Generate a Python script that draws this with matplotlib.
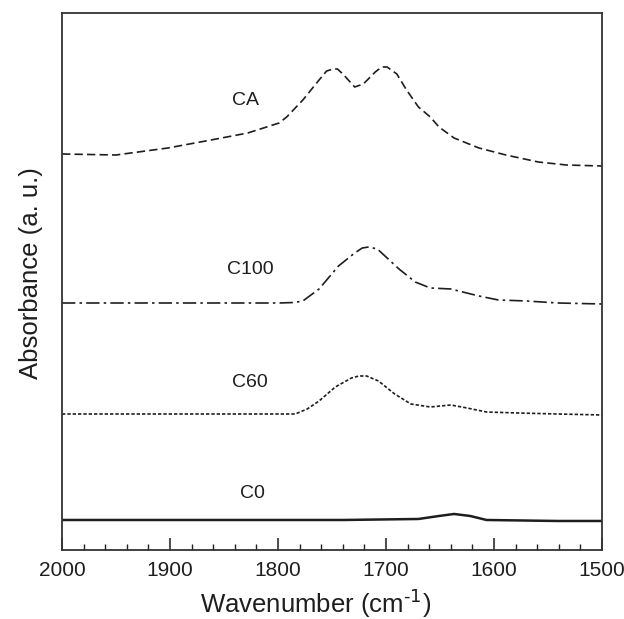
import numpy as np
import matplotlib
matplotlib.use("Agg")
import matplotlib.pyplot as plt
from matplotlib.ticker import MultipleLocator

plt.rcParams["font.family"] = ["Liberation Sans", "DejaVu Sans"]
plt.rcParams["mathtext.default"] = "regular"

# wavenumber (cm-1) and absorbance with vertical offsets (a.u.)
ca_x = [2000, 1950, 1902, 1862, 1828, 1799, 1792, 1777, 1762, 1755, 1749, 1745,
        1740, 1729, 1721, 1710, 1704, 1699, 1690, 1681, 1670, 1659, 1651, 1637,
        1614, 1589, 1559, 1533, 1500]
ca_y = [3.96, 3.95, 4.02, 4.10, 4.17, 4.27, 4.33, 4.50, 4.70, 4.79, 4.81, 4.81,
        4.76, 4.63, 4.66, 4.78, 4.83, 4.83, 4.76, 4.60, 4.43, 4.33, 4.23, 4.12,
        4.02, 3.95, 3.88, 3.85, 3.84]

c100_x = [2000, 1900, 1799, 1785, 1777, 1762, 1744, 1729, 1722, 1716, 1708, 1699,
          1688, 1673, 1659, 1640, 1629, 1614, 1596, 1570, 1541, 1500]
c100_y = [2.47, 2.47, 2.47, 2.475, 2.49, 2.61, 2.84, 2.97, 3.02, 3.03, 3.01, 2.92,
          2.81, 2.68, 2.62, 2.61, 2.58, 2.54, 2.50, 2.49, 2.47, 2.46]

c60_x = [2000, 1900, 1784, 1773, 1762, 1747, 1732, 1725, 1718, 1707, 1692, 1677,
         1659, 1640, 1625, 1607, 1578, 1541, 1500]
c60_y = [1.36, 1.36, 1.36, 1.41, 1.49, 1.63, 1.72, 1.74, 1.74, 1.69, 1.56, 1.46,
         1.43, 1.45, 1.42, 1.38, 1.37, 1.36, 1.35]

c0_x = [2000, 1900, 1800, 1740, 1670, 1651, 1637, 1622, 1607, 1541, 1500]
c0_y = [0.30, 0.30, 0.30, 0.30, 0.31, 0.34, 0.36, 0.34, 0.30, 0.29, 0.29]

labels = ["CA", "C100", "C60", "C0"]
label_pos = [(1830, 4.49), (1826, 2.80), (1826, 1.67), (1824, 0.56)]

ink = "#1e1e1e"
fig = plt.figure(figsize=(6.24, 6.19), dpi=100)
ax = fig.add_axes([0.0994, 0.1115, 0.8654, 0.8675])

ax.plot(ca_x, ca_y, color=ink, lw=1.2, dashes=(5, 2.5))
ax.plot(c100_x, c100_y, color=ink, lw=1.2, dashes=(8, 2.5, 1.5, 2.5))
ax.plot(c60_x, c60_y, color=ink, lw=1.2, dashes=(2, 1.2))
ax.plot(c0_x, c0_y, color=ink, lw=1.8)

for txt, (tx, ty) in zip(labels, label_pos):
    ax.text(tx, ty, txt, fontsize=14, color=ink, ha="center", va="center")

ax.set_xlim(2000, 1500)
ax.set_ylim(0, 5.37)
ax.xaxis.set_major_locator(MultipleLocator(100))
ax.xaxis.set_minor_locator(MultipleLocator(20))
ax.tick_params(axis="x", which="major", direction="in", length=9, width=1.1,
               labelsize=15, pad=8, colors=ink)
ax.tick_params(axis="x", which="minor", direction="in", length=4.5, width=1.0,
               colors=ink)
ax.set_yticks([])
for s in ax.spines.values():
    s.set_color("#333333")
    s.set_linewidth(1.3)

ax.set_xlabel(r"Wavenumber (cm$^{\text{-1}}$)", fontsize=18.5, color=ink, va="center")
ax.set_ylabel("Absorbance (a. u.)", fontsize=18.5, color=ink, va="center")
ax.xaxis.set_label_coords(0.47, -0.10)
ax.yaxis.set_label_coords(-0.058, 0.515)

fig.savefig("out.png", dpi=100)
